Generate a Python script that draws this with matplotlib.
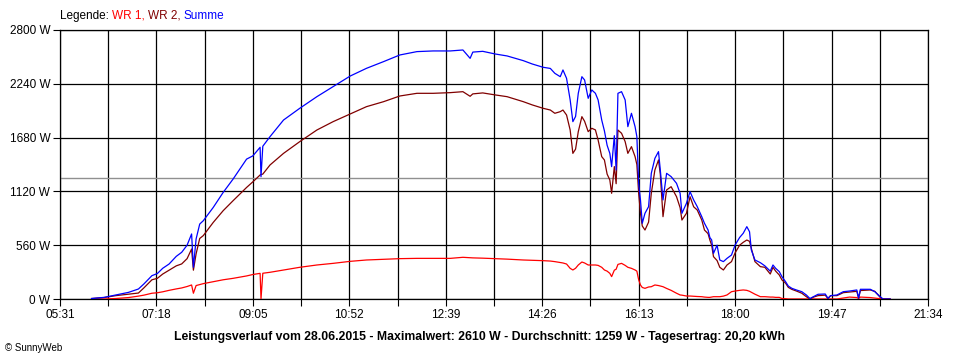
import matplotlib.pyplot as plt
import numpy as np

# Messzeitpunkte (HH:MM) und Leistungswerte in W
zeit = ["06:06", "06:20", "06:33", "06:47", "06:58", "07:04", "07:13", "07:19", "07:25", "07:32",
        "07:40", "07:46", "07:52", "07:57", "07:59", "08:02", "08:06", "08:10", "08:21", "08:32",
        "08:43", "08:58", "09:05", "09:13", "09:14", "09:16", "09:24", "09:39", "09:57", "10:16",
        "10:34", "10:53", "11:11", "11:30", "11:48", "12:07", "12:25", "12:44", "12:58", "13:06",
        "13:09", "13:20", "13:34", "13:47", "14:05", "14:15", "14:27", "14:35", "14:40", "14:46",
        "14:49", "14:53", "14:57", "15:00", "15:03", "15:06", "15:10", "15:13", "15:17", "15:21",
        "15:25", "15:28", "15:32", "15:35", "15:38", "15:41", "15:43", "15:46", "15:48", "15:50",
        "15:54", "15:58", "16:01", "16:05", "16:09", "16:11", "16:13", "16:15", "16:17", "16:20",
        "16:24", "16:27", "16:31", "16:35", "16:37", "16:40", "16:44", "16:49", "16:55", "16:59",
        "17:01", "17:06", "17:10", "17:14", "17:18", "17:23", "17:26", "17:30", "17:32", "17:34",
        "17:36", "17:40", "17:43", "17:47", "17:51", "17:56", "18:00", "18:05", "18:09", "18:13",
        "18:16", "18:18", "18:22", "18:28", "18:33", "18:39", "18:42", "18:45", "18:49", "18:52",
        "18:56", "18:59", "19:03", "19:08", "19:14", "19:19", "19:23", "19:27", "19:32", "19:40",
        "19:43", "19:46", "19:53", "20:00", "20:07", "20:15", "20:17", "20:19", "20:30", "20:35",
        "20:41", "20:44", "20:52"]

wr1 = [0, 0, 5, 15, 30, 40, 60, 65, 75, 90,
       105, 115, 130, 146, 60, 140, 150, 160, 180, 200,
       215, 240, 255, 267, 0, 268, 278, 302, 330, 354,
       371, 392, 406, 413, 420, 423, 423, 423, 434, 430,
       428, 425, 420, 415, 406, 403, 399, 395, 389, 380,
       375, 364, 319, 302, 320, 354, 385, 375, 354, 354,
       354, 350, 330, 302, 290, 267, 233, 300, 310, 360,
       371, 350, 330, 319, 302, 290, 200, 146, 120, 111,
       125, 128, 146, 140, 135, 128, 110, 90, 60, 42,
       40, 31, 31, 28, 26, 24, 20, 17, 17, 20,
       24, 24, 24, 30, 42, 76, 83, 90, 94, 90,
       80, 70, 50, 24, 24, 20, 20, 17, 17, 5,
       3, 0, 0, 0, 0, 0, 0, 0, 0, 0,
       0, 0, 0, 10, 20, 15, 5, 20, 15, 10,
       5, 0, 0]

wr2 = [5, 15, 35, 50, 62, 115, 200, 215, 260, 300,
       345, 365, 420, 520, 300, 470, 630, 660, 797, 919,
       1023, 1161, 1220, 1291, 1295, 1300, 1395, 1516, 1638, 1759,
       1846, 1926, 2002, 2054, 2113, 2141, 2141, 2148, 2158, 2110,
       2135, 2145, 2124, 2106, 2054, 2020, 1985, 1967, 1933, 1950,
       1967, 1915, 1759, 1516, 1560, 1742, 1898, 1850, 1742, 1777,
       1760, 1655, 1482, 1447, 1300, 1239, 1100, 1378, 1200, 1759,
       1725, 1638, 1516, 1586, 1482, 1400, 1100, 892, 760, 718,
       800, 1100, 1343, 1447, 1300, 857, 1135, 1169, 1065, 950,
       822, 892, 1065, 960, 926, 822, 718, 680, 614, 560,
       441, 400, 330, 302, 354, 389, 480, 560, 590, 614,
       600, 527, 389, 337, 330, 260, 330, 290, 250, 198,
       165, 121, 100, 83, 60, 24, 0, 20, 35, 40,
       5, 35, 35, 66, 72, 80, 10, 88, 94, 80,
       17, 0, 0]

summe = [5, 17, 42, 69, 104, 156, 243, 265, 320, 364,
         444, 486, 560, 677, 330, 625, 780, 815, 953, 1109,
         1248, 1456, 1490, 1579, 1273, 1590, 1690, 1863, 1985, 2106,
         2210, 2321, 2401, 2471, 2540, 2575, 2582, 2582, 2592, 2505,
         2570, 2578, 2550, 2530, 2481, 2446, 2412, 2400, 2349, 2314,
         2384, 2297, 2072, 1846, 1900, 2141, 2314, 2280, 2089, 2176,
         2141, 2072, 1863, 1750, 1600, 1516, 1378, 1700, 1343, 2141,
         2158, 2072, 1794, 1933, 1794, 1690, 1204, 1031, 788, 892,
         961, 1308, 1464, 1534, 1343, 1031, 1308, 1274, 1204, 1100,
         892, 996, 1117, 1031, 961, 857, 788, 718, 640, 614,
         475, 560, 406, 389, 423, 458, 562, 640, 684, 753,
         700, 510, 406, 378, 345, 290, 354, 319, 285, 232,
         180, 135, 111, 94, 76, 42, 5, 24, 49, 52,
         7, 35, 42, 76, 83, 94, 10, 101, 101, 76,
         24, 0, 0]

durchschnitt = 1259
x_labels = ["05:31", "07:18", "09:05", "10:52", "12:39", "14:26", "16:13", "18:00", "19:47", "21:34"]
y_werte = [0, 560, 1120, 1680, 2240, 2800]

legende = [("Legende: ", "black"), ("WR 1, ", "#ff0000"), ("WR 2, ", "#800000"), ("Summe", "#0000ff")]
titel = ("Leistungsverlauf vom 28.06.2015 - Maximalwert: 2610 W - Durchschnitt: 1259 W"
         " - Tagesertrag: 20,20 kWh")


def minuten(s):
    h, m = s.split(":")
    return int(h) * 60 + int(m)


t = np.array([minuten(z) for z in zeit])
xt = np.array([minuten(z) for z in x_labels])
xminor = (xt[:-1] + xt[1:]) / 2

plt.rcParams['font.family'] = 'Liberation Sans'
fig = plt.figure(figsize=(9.6, 3.6), dpi=100)
ax = fig.add_axes([60 / 960, 1 - 299 / 360, 868 / 960, 269 / 360])

ax.plot(t, wr1, color="#ff0000", lw=0.9, zorder=3)
ax.plot(t, wr2, color="#800000", lw=0.9, zorder=4)
ax.plot(t, summe, color="#0000ff", lw=0.9, zorder=5)
ax.axhline(durchschnitt, color="#909090", lw=1.0, zorder=2)

ax.set_xlim(xt[0], xt[-1])
ax.set_ylim(0, 2800)
ax.set_xticks(xt)
ax.set_xticklabels(x_labels)
ax.set_xticks(xminor, minor=True)
ax.set_yticks(y_werte)
ax.set_yticklabels([f"{v} W" for v in y_werte])
ax.tick_params(axis="both", which="both", length=5, width=0.8, color="black", labelsize=8.5, pad=2)
ax.grid(True, which="both", axis="x", color="black", lw=0.9)
ax.grid(True, which="major", axis="y", color="black", lw=0.9)
ax.set_axisbelow(True)
for s in ax.spines.values():
    s.set_linewidth(0.9)

# Legende aus farbigen Textstücken
r = fig.canvas.get_renderer()
x = 60 / 960
for txt, col in legende:
    tt = fig.text(x, 1 - 16 / 360, txt, color=col, fontsize=8.5, va="center", ha="left")
    x += tt.get_window_extent(r).width / 960

fig.text(0.5, 1 - 337 / 360, titel, ha="center", va="center", fontsize=8.8, fontweight="bold")
fig.text(5 / 960, 1 - 348 / 360, "\u00a9 SunnyWeb", ha="left", va="center", fontsize=7)

fig.savefig("out.png", dpi=100, facecolor="white")
